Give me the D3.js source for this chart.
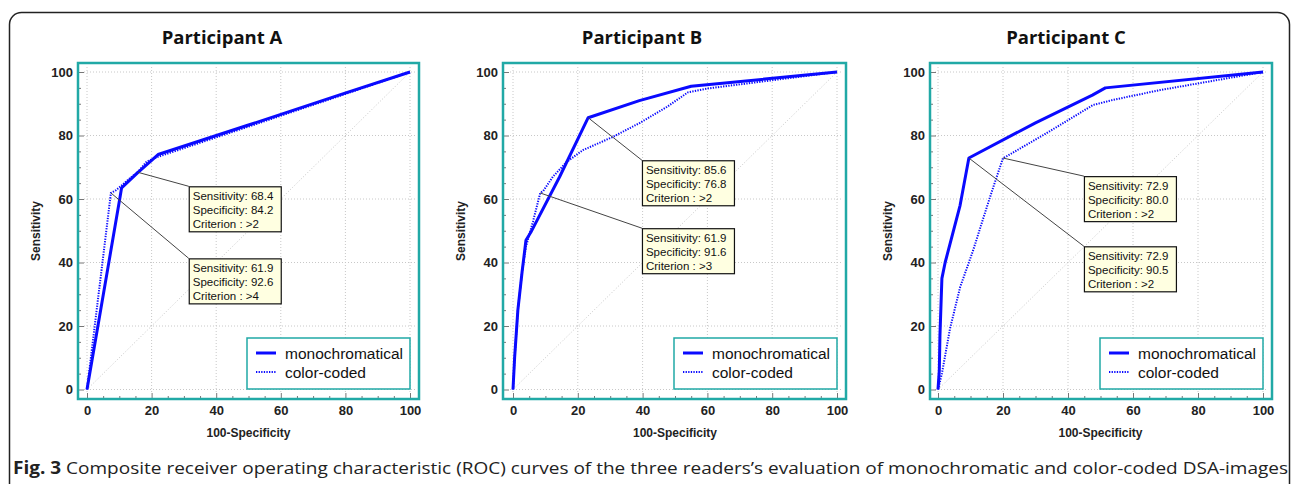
<!DOCTYPE html>
<html>
<head>
<meta charset="utf-8">
<script src="https://cdn.jsdelivr.net/npm/d3@7"></script>
<style>
  body { margin: 0; background: #fff; }
  svg { display: block; }
</style>
</head>
<body>
<div id="chart"></div>
<script>
// dane
const titles = ["Participant A", "Participant B", "Participant C"];
const seriesNames = ["monochromatical", "color-coded"];
const majorTicks = [0, 20, 40, 60, 80, 100];
const minorTicks = d3.range(0, 101, 5);

// krzywe ROC: [100-Specificity, Sensitivity]
const monoA = [[0,0],[10.3,61],[10.7,63.5],[15.8,68.4],[22,74],[50,83.3],[78,92.7],[100,100]];
const colorA = [[0,0],[7.4,61.9],[9,62.8],[11,64.5],[13,66.3],[16,68.8],[18.5,71.8],[22,73.3],[50,82.8],[78,92.4],[100,100]];
const monoB = [[0,0],[0.5,10],[1.5,25],[2.8,37],[4,47],[5.5,49.5],[14.4,67],[23.2,85.6],[39,91],[55,95.5],[100,100]];
const colorB = [[0,0],[0.5,10],[1.5,25],[2.8,37],[4,45],[6.2,53],[8.4,61.9],[9.3,62.5],[12.3,67],[16.6,71.7],[21.6,75.4],[30.9,79.6],[39.2,84],[47.5,89],[54,93.6],[60,94.8],[80,97.4],[100,100]];
const monoC = [[0,0],[0.4,6],[0.6,17],[1,29],[1.2,35],[2.2,40],[6.8,58],[9.5,72.9],[30,84],[47.5,92.7],[51.5,95],[100,100]];
const colorC = [[0,0],[1.2,5],[3.7,19.2],[6.8,32.2],[10.8,43.8],[15,57.4],[17,63.7],[20,72.9],[21.2,73.5],[33.5,80.8],[47.7,89.6],[53.8,91.2],[68.3,94.3],[88.9,98],[100,100]];

// punkty odciecia (tabliczki)
const cutSens = [[68.4, 61.9], [85.6, 61.9], [72.9, 72.9]];
const cutSpec = [[84.2, 92.6], [76.8, 91.6], [80.0, 90.5]];
const cutCrit = [[">2", ">4"], [">2", ">3"], [">2", ">2"]];

const caption = " Composite receiver operating characteristic (ROC) curves of the three readers\u2019s evaluation of monochromatic and color-coded DSA-images";

const width = 1292, height = 484;
const teal = "#21a9a6", blue = "#0a0aff";

// uklad paneli (piksele)
const layout = [
  { bx: 78,  bx2: 419,  x0: 87,  x1: 410,  tx: 222,  boxes: [[31.5, 64], [31.5, 41.3]] },
  { bx: 503, bx2: 846,  x0: 513, x1: 837,  tx: 642,  boxes: [[39.8, 72.2], [39.8, 50.8]] },
  { bx: 930, bx2: 1272, x0: 938, x1: 1263, tx: 1066, boxes: [[44.9, 67.2], [44.9, 45.1]] }
];
const curves = [[monoA, colorA], [monoB, colorB], [monoC, colorC]];

const svg = d3.select("#chart").append("svg")
  .attr("width", width).attr("height", height);

// ramka
svg.append("rect")
  .attr("x", 9.5).attr("y", 12.5).attr("width", 1280).attr("height", 520)
  .attr("rx", 12).attr("fill", "none").attr("stroke", "#222").attr("stroke-width", 1.5);

const boxTop = 63, boxBottom = 399;

layout.forEach((L, i) => {
  const g = svg.append("g");
  const x = d3.scaleLinear().domain([0, 100]).range([L.x0, L.x1]);
  const y = d3.scaleLinear().domain([0, 100]).range([389.5, 72]);

  g.append("text")
    .attr("x", L.tx).attr("y", 44)
    .attr("text-anchor", "middle")
    .attr("font-family", "Open Sans, sans-serif").attr("font-weight", "bold")
    .attr("font-size", 18.5).attr("fill", "#111")
    .text(titles[i]);

  // siatka
  g.append("g").selectAll("line").data(majorTicks).join("line")
    .attr("x1", L.x0 - 3).attr("x2", L.bx2 - 4)
    .attr("y1", d => y(d)).attr("y2", d => y(d))
    .attr("stroke", "#c8c8c8").attr("stroke-dasharray", "1,2");
  g.append("g").selectAll("line").data(majorTicks).join("line")
    .attr("y1", boxTop + 4).attr("y2", boxBottom - 6)
    .attr("x1", d => x(d)).attr("x2", d => x(d))
    .attr("stroke", "#c8c8c8").attr("stroke-dasharray", "1,2");
  g.append("line")
    .attr("x1", x(0)).attr("y1", y(0)).attr("x2", x(100)).attr("y2", y(100))
    .attr("stroke", "#c8c8c8").attr("stroke-dasharray", "1,2");

  // ticki wewnatrz ramki
  const tickY = d3.axisRight(y).tickValues(minorTicks)
    .tickSize(0).tickFormat("");
  g.append("g").attr("transform", `translate(${L.bx},0)`).call(tickY)
    .call(a => a.select(".domain").remove())
    .call(a => a.selectAll(".tick line")
      .attr("x2", d => d % 20 === 0 ? 6 : 3).attr("stroke", "#777"));
  const tickX = d3.axisTop(x).tickValues(minorTicks)
    .tickSize(0).tickFormat("");
  g.append("g").attr("transform", `translate(0,${boxBottom})`).call(tickX)
    .call(a => a.select(".domain").remove())
    .call(a => a.selectAll(".tick line")
      .attr("y2", d => d % 20 === 0 ? -6 : -3).attr("stroke", "#777"));

  // etykiety osi
  const labY = d3.axisLeft(y).tickValues(majorTicks).tickSize(0).tickPadding(5);
  g.append("g").attr("transform", `translate(${L.bx},0)`).call(labY)
    .call(a => a.select(".domain").remove())
    .call(a => a.selectAll("text").attr("font-family", "Liberation Sans, Arial, sans-serif")
      .attr("font-weight", "bold").attr("font-size", 13).attr("fill", "#222"));
  const labX = d3.axisBottom(x).tickValues(majorTicks).tickSize(0).tickPadding(7);
  g.append("g").attr("transform", `translate(0,${boxBottom})`).call(labX)
    .call(a => a.select(".domain").remove())
    .call(a => a.selectAll("text").attr("font-family", "Liberation Sans, Arial, sans-serif")
      .attr("font-weight", "bold").attr("font-size", 13).attr("fill", "#222"));

  g.append("text")
    .attr("transform", `translate(${L.bx - 38},${(boxTop + boxBottom) / 2}) rotate(-90)`)
    .attr("text-anchor", "middle")
    .attr("font-family", "Liberation Sans, Arial, sans-serif").attr("font-weight", "bold")
    .attr("font-size", 12).attr("fill", "#222")
    .text("Sensitivity");
  g.append("text")
    .attr("x", (L.x0 + L.x1) / 2).attr("y", 437)
    .attr("text-anchor", "middle")
    .attr("font-family", "Liberation Sans, Arial, sans-serif").attr("font-weight", "bold")
    .attr("font-size", 12).attr("fill", "#222")
    .text("100-Specificity");

  // krzywe
  const line = d3.line().x(d => x(d[0])).y(d => y(d[1]));
  g.append("path").datum(curves[i][1]).attr("d", line)
    .attr("fill", "none").attr("stroke", blue).attr("stroke-width", 2)
    .attr("stroke-dasharray", "1.3,1.3");
  g.append("path").datum(curves[i][0]).attr("d", line)
    .attr("fill", "none").attr("stroke", blue).attr("stroke-width", 3)
    .attr("stroke-linejoin", "round");

  // tabliczki
  [0, 1].forEach(k => {
    const px = x(100 - cutSpec[i][k]), py = y(cutSens[i][k]);
    const bx = x(L.boxes[k][0]), by = y(L.boxes[k][1]);
    g.append("line").attr("x1", px).attr("y1", py).attr("x2", bx).attr("y2", by)
      .attr("stroke", "#444").attr("stroke-width", 1);
    g.append("rect").attr("x", bx + 0.5).attr("y", by + 0.5).attr("width", 92).attr("height", 45)
      .attr("fill", "#ffffe1").attr("stroke", "#111").attr("stroke-width", 1.2);
    const lines = [
      "Sensitivity: " + cutSens[i][k].toFixed(1),
      "Specificity: " + cutSpec[i][k].toFixed(1),
      "Criterion : " + cutCrit[i][k]
    ];
    g.append("g").selectAll("text").data(lines).join("text")
      .attr("x", bx + 4).attr("y", (d, j) => by + 14 + j * 14)
      .attr("font-family", "Liberation Sans, Arial, sans-serif")
      .attr("font-size", 11.5).attr("fill", "#111")
      .text(d => d);
  });

  // legenda
  const lx = L.x1 - 163, ly = 338;
  g.append("rect").attr("x", lx).attr("y", ly).attr("width", 163).attr("height", 51)
    .attr("fill", "#fff").attr("stroke", teal).attr("stroke-width", 1.5);
  seriesNames.forEach((s, k) => {
    const yy = ly + 15 + k * 19;
    g.append("line").attr("x1", lx + 9).attr("x2", lx + 29).attr("y1", yy).attr("y2", yy)
      .attr("stroke", blue).attr("stroke-width", k === 0 ? 3 : 2)
      .attr("stroke-dasharray", k === 0 ? null : "1.3,1.3");
    g.append("text").attr("x", lx + 38).attr("y", yy + 5.5)
      .attr("font-family", "Liberation Sans, Arial, sans-serif")
      .attr("font-size", 15.5).attr("fill", "#111")
      .text(s);
  });

  // ramka wykresu
  g.append("rect").attr("x", L.bx).attr("y", boxTop)
    .attr("width", L.bx2 - L.bx).attr("height", boxBottom - boxTop)
    .attr("fill", "none").attr("stroke", teal).attr("stroke-width", 2.5);
});

// podpis
const cap = svg.append("text")
  .attr("x", 13).attr("y", 474)
  .attr("font-family", "Open Sans, sans-serif").attr("font-size", 17)
  .attr("fill", "#222")
  .attr("textLength", 1275).attr("lengthAdjust", "spacingAndGlyphs");
cap.append("tspan").attr("font-weight", "bold").text("Fig. 3");
cap.append("tspan").text(caption);
</script>
</body>
</html>
